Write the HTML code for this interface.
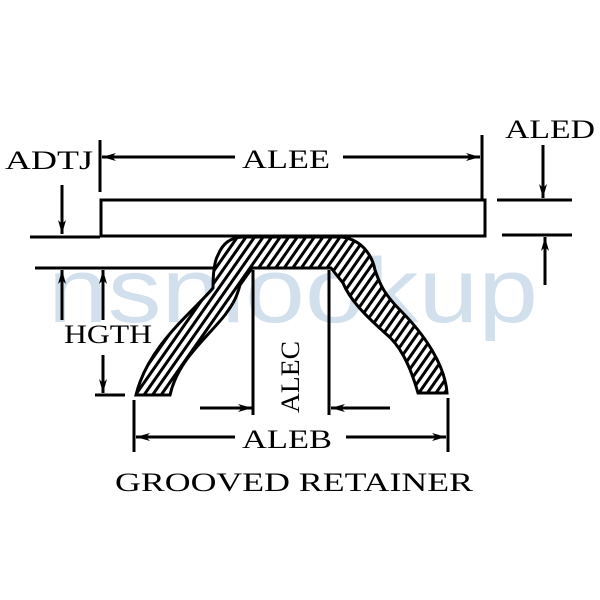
<!DOCTYPE html>
<html><head><style>body{margin:0;background:#fff}svg{display:block}</style></head><body>
<svg width="600" height="600" viewBox="0 0 600 600" xmlns="http://www.w3.org/2000/svg">
<defs>
<pattern id="h" width="7" height="7" patternUnits="userSpaceOnUse" patternTransform="rotate(35)">
<rect width="7" height="7" fill="#fff"/><rect width="3" height="7" fill="#000"/>
</pattern>
<marker id="a" markerWidth="14" markerHeight="8" refX="14" refY="4" orient="auto" markerUnits="userSpaceOnUse"><path d="M0,0 L14,4 L0,8 L4,4Z" fill="#000"/></marker>
</defs>
<text x="48" y="322" font-family="Liberation Sans, sans-serif" font-size="92" fill="#8fb0d0" fill-opacity="0.4" textLength="490" lengthAdjust="spacingAndGlyphs">nsnlookup</text>
<g font-family="Liberation Serif, serif" font-size="26" fill="#000">
<text x="5" y="169" textLength="88" lengthAdjust="spacingAndGlyphs">ADTJ</text>
<text x="242" y="168" textLength="88" lengthAdjust="spacingAndGlyphs">ALEE</text>
<text x="505" y="138" textLength="90" lengthAdjust="spacingAndGlyphs">ALED</text>
<text x="64" y="343" textLength="88" lengthAdjust="spacingAndGlyphs">HGTH</text>
<text x="242" y="448" textLength="90" lengthAdjust="spacingAndGlyphs">ALEB</text>
<text x="115" y="491" textLength="358" lengthAdjust="spacingAndGlyphs">GROOVED RETAINER</text>
<text transform="translate(299,413) rotate(-90)" textLength="72" lengthAdjust="spacingAndGlyphs">ALEC</text>
</g>
<g stroke="#000" stroke-width="3" fill="none">
<rect x="101" y="200" width="384" height="36"/>
<line x1="100" y1="140" x2="100" y2="192"/>
<line x1="482" y1="135" x2="482" y2="200"/>
<line x1="235" y1="157" x2="102" y2="157" marker-end="url(#a)"/>
<line x1="343" y1="157" x2="480" y2="157" marker-end="url(#a)"/>
<line x1="62" y1="185" x2="62" y2="234" marker-end="url(#a)"/>
<line x1="30" y1="237" x2="100" y2="237"/>
<line x1="35" y1="268" x2="215" y2="268"/>
<line x1="62" y1="320" x2="62" y2="270" marker-end="url(#a)"/>
<line x1="103" y1="320" x2="103" y2="270" marker-end="url(#a)"/>
<line x1="103" y1="355" x2="103" y2="393" marker-end="url(#a)"/>
<line x1="95" y1="395" x2="125" y2="395"/>
<line x1="253" y1="270" x2="253" y2="415"/>
<line x1="329" y1="270" x2="329" y2="415"/>
<line x1="200" y1="408" x2="252" y2="408" marker-end="url(#a)"/>
<line x1="390" y1="408" x2="331" y2="408" marker-end="url(#a)"/>
<line x1="134" y1="400" x2="134" y2="452"/>
<line x1="448" y1="398" x2="448" y2="452"/>
<line x1="235" y1="437" x2="136" y2="437" marker-end="url(#a)"/>
<line x1="346" y1="437" x2="446" y2="437" marker-end="url(#a)"/>
<line x1="543" y1="145" x2="543" y2="198" marker-end="url(#a)"/>
<line x1="497" y1="200" x2="572" y2="200"/>
<line x1="502" y1="235" x2="572" y2="235"/>
<line x1="545" y1="285" x2="545" y2="237" marker-end="url(#a)"/>
<path fill="url(#h)" d="M136,395 C148,345 195,310 213,288 C213,275 214,262 218,255 C223,243 230,238 242,237 L342,237 C362,240 372,255 375,270 C380,285 385,295 400,310 C425,335 445,365 447,393 L418,393 C410,365 400,345 385,333 C365,315 350,300 343,283 L331,268 L252,268 L240,285 C236,300 232,305 225,315 C205,340 178,360 170,395 Z"/>
</g>
</svg>
</body></html>
